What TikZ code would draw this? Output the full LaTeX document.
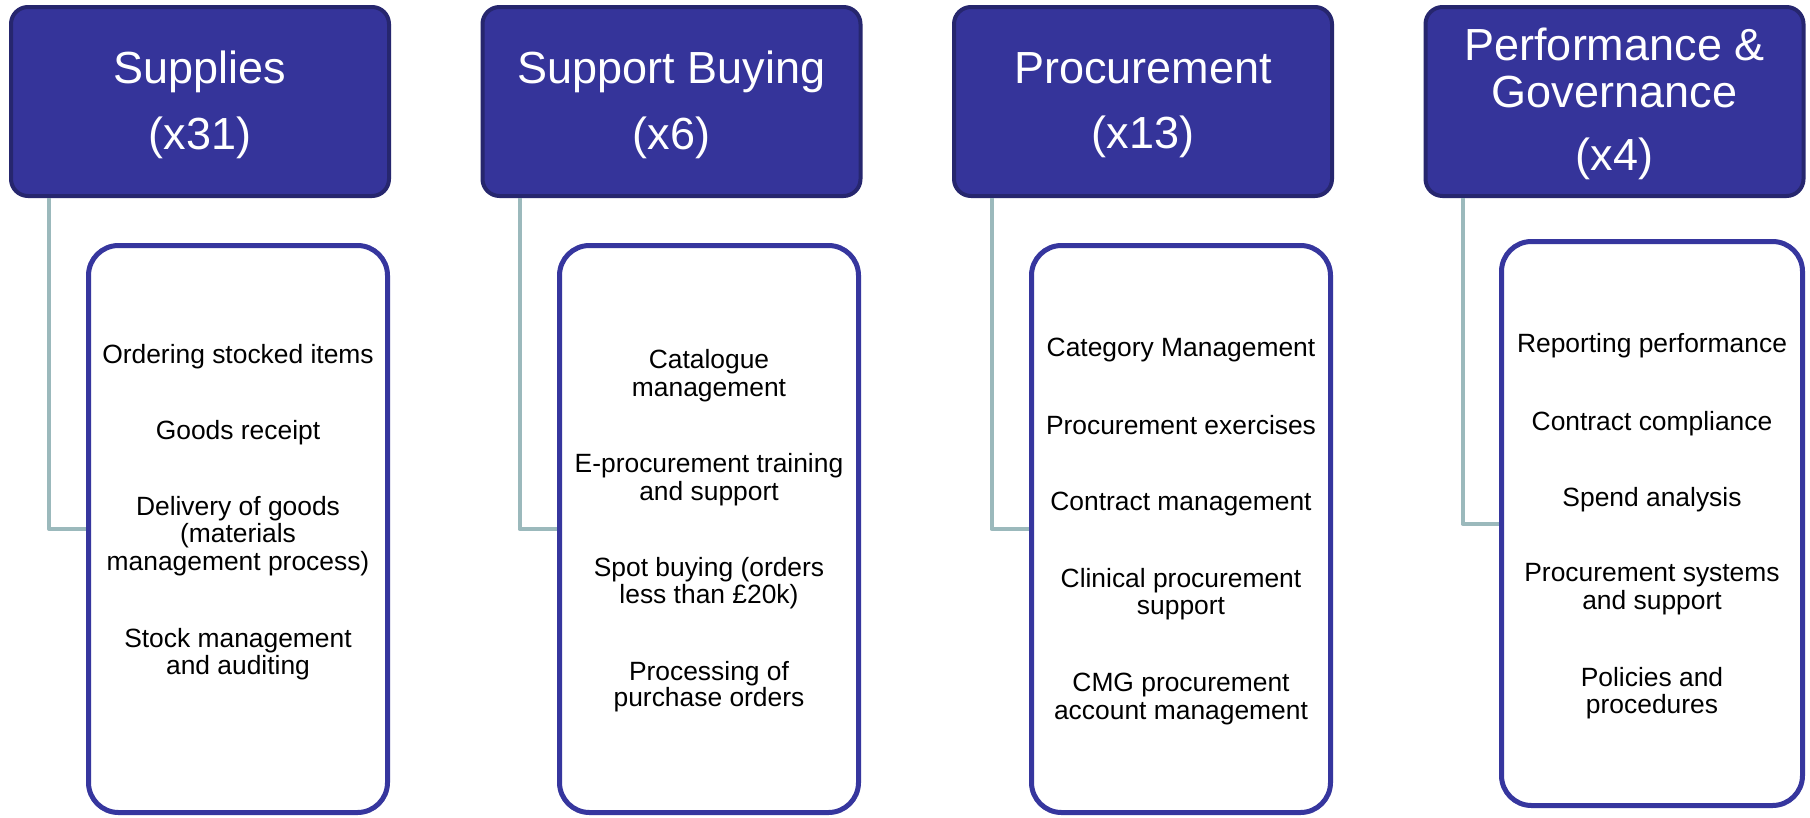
\documentclass[tikz,border=0pt]{standalone}
\usepackage{fontspec}
\setmainfont{Liberation Sans}
\definecolor{hdrfill}{HTML}{35349A}
\definecolor{hdrline}{HTML}{26266E}
\definecolor{bodyline}{HTML}{36369E}
\definecolor{conn}{HTML}{9BB9BC}
\tikzset{
  hdrbox/.style={draw=hdrline, fill=hdrfill, line width=4pt, rounded corners=17pt,
    minimum width=378pt, minimum height=189pt, inner sep=0pt},
  bodybox/.style={draw=bodyline, fill=white, line width=5pt, rounded corners=30pt,
    minimum width=299pt, minimum height=567pt, inner sep=0pt},
  hdrtext/.style={anchor=base, inner sep=0pt, text=white, font=\fontsize{45}{54}\selectfont},
  itemtext/.style={anchor=base, inner sep=0pt, text=black, font=\fontsize{26.4}{27.5}\selectfont},
  connector/.style={draw=conn, line width=4pt, line join=round}
}
\begin{document}
\begin{tikzpicture}[x=1pt, y=-1pt]
\useasboundingbox (0,0) rectangle (1810,817);
\fill[white] (0,0) rectangle (1810,817);

% header boxes
\node[hdrbox] (h1) at (200,101.5) {};
\node[hdrbox] (h2) at (671.5,101.5) {};
\node[hdrbox] (h3) at (1143,101.5) {};
\node[hdrbox] (h4) at (1614.5,101.5) {};

% body boxes
\node[bodybox] (b1) at (238,529) {};
\node[bodybox] (b2) at (709,529) {};
\node[bodybox] (b3) at (1181,529) {};
\node[bodybox, minimum width=301pt, minimum height=564pt] (b4) at (1652,523.5) {};

% connectors
\draw[connector] (h1.south west) ++(40,0) |- (b1.west);
\draw[connector] (h2.south west) ++(39,0) |- (b2.west);
\draw[connector] (h3.south west) ++(39.5,0) |- (b3.west);
\draw[connector] (h4.south west) ++(39,0) |- (b4.west);

% header texts
\node[hdrtext] (h1a) at (200,83) {Supplies};
\node[hdrtext] (h1b) at (200,149) {(x31)};
\node[hdrtext] (h2a) at (671.5,83) {Support Buying};
\node[hdrtext] (h2b) at (671.5,149) {(x6)};
\node[hdrtext] (h3a) at (1143,83) {Procurement};
\node[hdrtext] (h3b) at (1143,148) {(x13)};
\node[hdrtext] (h4a) at (1614.5,60) {Performance \&};
\node[hdrtext] (h4b) at (1614.5,107) {Governance};
\node[hdrtext] (h4c) at (1614.5,170) {(x4)};

% body 1
\node[itemtext] (t1a) at (238,363) {Ordering stocked items};
\node[itemtext] (t1b) at (238,439) {Goods receipt};
\node[itemtext] (t1c) at (238,515) {Delivery of goods};
\node[itemtext] (t1d) at (238,542.5) {(materials};
\node[itemtext] (t1e) at (238,570) {management process)};
\node[itemtext] (t1f) at (238,647) {Stock management};
\node[itemtext] (t1g) at (238,674.5) {and auditing};

% body 2
\node[itemtext] (t2a) at (709,368.3) {Catalogue};
\node[itemtext] (t2b) at (709,396) {management};
\node[itemtext] (t2c) at (709,472.7) {E-procurement training};
\node[itemtext] (t2d) at (709,500) {and support};
\node[itemtext] (t2e) at (709,576) {Spot buying (orders};
\node[itemtext] (t2f) at (709,603.3) {less than £20k)};
\node[itemtext] (t2g) at (709,680.7) {Processing of};
\node[itemtext] (t2h) at (709,706.7) {purchase orders};

% body 3
\node[itemtext] (t3a) at (1181,356.7) {Category Management};
\node[itemtext] (t3b) at (1181,434) {Procurement exercises};
\node[itemtext] (t3c) at (1181,510.7) {Contract management};
\node[itemtext] (t3d) at (1181,587.3) {Clinical procurement};
\node[itemtext] (t3e) at (1181,614) {support};
\node[itemtext] (t3f) at (1181,691.7) {CMG procurement};
\node[itemtext] (t3g) at (1181,719) {account management};

% body 4
\node[itemtext] (t4a) at (1652,352.7) {Reporting performance};
\node[itemtext] (t4b) at (1652,430) {Contract compliance};
\node[itemtext] (t4c) at (1652,506) {Spend analysis};
\node[itemtext] (t4d) at (1652,581.7) {Procurement systems};
\node[itemtext] (t4e) at (1652,609.3) {and support};
\node[itemtext] (t4f) at (1652,686) {Policies and};
\node[itemtext] (t4g) at (1652,713.3) {procedures};
\end{tikzpicture}
\end{document}
